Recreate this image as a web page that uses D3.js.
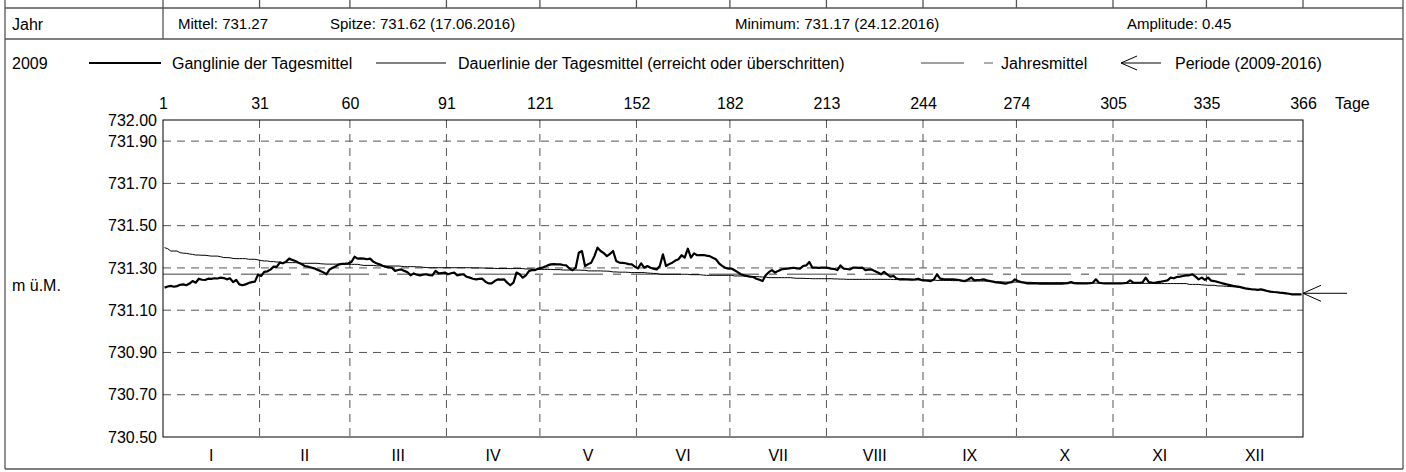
<!DOCTYPE html>
<html lang="de">

<head>
  <meta charset="UTF-8" />
  <title>Ganglinie der Tagesmittel 2009</title>
  <script src="https://d3js.org/d3.v7.min.js"></script>
  <style>
    body {
      margin: 0;
      background: #fff;
    }

    svg text {
      font-family: "Liberation Sans", Arial, sans-serif;
      font-size: 16px;
      fill: #000;
    }
  </style>
</head>

<body>
  <svg width="1406" height="472"></svg>

  <script>
    // --- Daten ---
    const year = "2009";
    const monthEnds = [0, 31, 60, 91, 121, 152, 182, 213, 244, 274, 305, 335, 366];
    const dayLabels = ["1", "31", "60", "91", "121", "152", "182", "213", "244", "274", "305", "335", "366"];
    const monthNames = ["I", "II", "III", "IV", "V", "VI", "VII", "VIII", "IX", "X", "XI", "XII"];
    const yTicks = [732.0, 731.9, 731.7, 731.5, 731.3, 731.1, 730.9, 730.7, 730.5];
    const jahresmittel = 731.27;
    const periodeWert = 731.18;
    const headerTexts = ["Mittel: 731.27", "Spitze: 731.62 (17.06.2016)", "Minimum: 731.17 (24.12.2016)", "Amplitude: 0.45"];
    const legendTexts = ["Ganglinie der Tagesmittel", "Dauerlinie der Tagesmittel (erreicht oder überschritten)", "Jahresmittel", "Periode (2009-2016)"];

    // Tagesmittel (m ü.M.), Monat für Monat
    const jan = [731.207, 731.212, 731.215, 731.211, 731.214, 731.220, 731.222, 731.218, 731.226, 731.238, 731.230, 731.249, 731.244, 731.243, 731.249, 731.248, 731.251, 731.250, 731.254, 731.252, 731.246, 731.251, 731.233, 731.243, 731.222, 731.218, 731.222, 731.229, 731.233, 731.235, 731.268];
    const feb = [731.262, 731.281, 731.284, 731.292, 731.306, 731.305, 731.325, 731.322, 731.330, 731.344, 731.338, 731.333, 731.325, 731.318, 731.309, 731.306, 731.302, 731.298, 731.292, 731.286, 731.279, 731.270, 731.293, 731.301, 731.308, 731.317, 731.319, 731.320, 731.322];
    const mar = [731.328, 731.353, 731.344, 731.345, 731.344, 731.341, 731.344, 731.330, 731.322, 731.317, 731.310, 731.305, 731.303, 731.301, 731.286, 731.290, 731.293, 731.286, 731.280, 731.265, 731.274, 731.268, 731.265, 731.268, 731.270, 731.266, 731.265, 731.286, 731.274, 731.276, 731.278];
    const apr = [731.270, 731.275, 731.278, 731.265, 731.268, 731.270, 731.258, 731.254, 731.249, 731.246, 731.248, 731.249, 731.235, 731.227, 731.227, 731.238, 731.246, 731.245, 731.246, 731.230, 731.218, 731.230, 731.278, 731.270, 731.254, 731.265, 731.285, 731.290, 731.290, 731.297];
    const mai = [731.300, 731.306, 731.312, 731.317, 731.318, 731.317, 731.317, 731.314, 731.312, 731.297, 731.289, 731.301, 731.372, 731.380, 731.309, 731.318, 731.325, 731.356, 731.396, 731.380, 731.370, 731.356, 731.366, 731.380, 731.333, 731.325, 731.324, 731.322, 731.318, 731.317, 731.306];
    const jun = [731.298, 731.322, 731.301, 731.309, 731.301, 731.297, 731.293, 731.309, 731.364, 731.309, 731.318, 731.325, 731.335, 731.341, 731.360, 731.349, 731.391, 731.349, 731.369, 731.360, 731.361, 731.361, 731.358, 731.356, 731.348, 731.341, 731.322, 731.310, 731.301, 731.297];
    const jul = [731.297, 731.289, 731.280, 731.270, 731.265, 731.262, 731.259, 731.257, 731.249, 731.244, 731.238, 731.265, 731.280, 731.290, 731.278, 731.286, 731.293, 731.295, 731.297, 731.299, 731.301, 731.298, 731.297, 731.309, 731.312, 731.328, 731.301, 731.301, 731.300, 731.301, 731.301];
    const aug = [731.300, 731.297, 731.295, 731.290, 731.312, 731.297, 731.295, 731.293, 731.301, 731.301, 731.300, 731.301, 731.290, 731.292, 731.293, 731.285, 731.278, 731.270, 731.281, 731.270, 731.259, 731.262, 731.250, 731.246, 731.247, 731.246, 731.246, 731.245, 731.246, 731.249, 731.243];
    const sep = [731.241, 731.240, 731.238, 731.245, 731.270, 731.249, 731.247, 731.246, 731.246, 731.246, 731.245, 731.243, 731.240, 731.238, 731.245, 731.254, 731.241, 731.243, 731.244, 731.246, 731.241, 731.238, 731.235, 731.232, 731.230, 731.228, 731.226, 731.230, 731.233, 731.246];
    const okt = [731.238, 731.233, 731.230, 731.227, 731.227, 731.227, 731.227, 731.226, 731.226, 731.226, 731.226, 731.226, 731.226, 731.226, 731.226, 731.227, 731.228, 731.233, 731.228, 731.227, 731.227, 731.227, 731.227, 731.228, 731.230, 731.246, 731.230, 731.228, 731.227, 731.227, 731.227];
    const nov = [731.227, 731.227, 731.227, 731.228, 731.230, 731.241, 731.230, 731.230, 731.230, 731.232, 731.254, 731.233, 731.231, 731.230, 731.233, 731.235, 731.238, 731.241, 731.254, 731.251, 731.257, 731.259, 731.262, 731.265, 731.265, 731.270, 731.259, 731.246, 731.254, 731.243];
    const dez = [731.254, 731.240, 731.238, 731.234, 731.230, 731.226, 731.222, 731.219, 731.215, 731.213, 731.211, 731.207, 731.203, 731.201, 731.199, 731.198, 731.196, 731.199, 731.195, 731.191, 731.188, 731.186, 731.185, 731.183, 731.182, 731.180, 731.178, 731.175, 731.175, 731.175, 731.175];

    const tagesmittel = [].concat(jan, feb, mar, apr, mai, jun, jul, aug, sep, okt, nov, dez);
    // Dauerlinie: Tagesmittel absteigend sortiert
    const dauerlinie = tagesmittel.slice().sort((a, b) => b - a);

    // --- Layout ---
    const frameL = 5, frameR = 1403, frameB = 469;
    const plot = { left: 163, right: 1303, top: 120, bottom: 437 };

    const svg = d3.select("svg");

    const x = d3.scaleLinear().domain([0, 366]).range([plot.left, plot.right]);
    const y = d3.scaleLinear().domain([730.5, 732.0]).range([plot.bottom, plot.top]);

    // Rahmen und Tabellenlinien
    const frame = svg.append("g").attr("stroke", "#555").attr("stroke-width", 1.3).attr("fill", "none");
    frame.append("line").attr("x1", frameL).attr("x2", frameL).attr("y1", 0).attr("y2", frameB);
    frame.append("line").attr("x1", frameR).attr("x2", frameR).attr("y1", 0).attr("y2", frameB);
    frame.append("line").attr("x1", frameL).attr("x2", frameR).attr("y1", frameB).attr("y2", frameB);
    frame.append("line").attr("x1", frameL).attr("x2", frameR).attr("y1", 8).attr("y2", 8);
    frame.append("line").attr("x1", frameL).attr("x2", frameR).attr("y1", 39).attr("y2", 39);
    frame.append("line").attr("x1", 163).attr("x2", 163).attr("y1", 8).attr("y2", 39);

    // Reste der Tabelle oben
    frame.selectAll(".topcut")
      .data(monthEnds)
      .join("line")
      .attr("x1", d => x(d)).attr("x2", d => x(d))
      .attr("y1", 0).attr("y2", 8);

    // Kopfzeile
    svg.append("text").attr("x", 12).attr("y", 24).attr("dy", "0.35em").text("Jahr");
    const headerX = [178, 330, 735, 1127];
    svg.selectAll(".hdr")
      .data(headerTexts)
      .join("text")
      .attr("x", (d, i) => headerX[i])
      .attr("y", 24)
      .attr("dy", "0.35em")
      .style("font-size", "15px")
      .text(d => d);

    // Legende
    const ly = 63;
    svg.append("text").attr("x", 12).attr("y", ly).attr("dy", "0.35em").text(year);
    svg.append("line").attr("x1", 89).attr("x2", 161).attr("y1", ly).attr("y2", ly)
      .attr("stroke", "#000").attr("stroke-width", 2.2);
    svg.append("text").attr("x", 172).attr("y", ly).attr("dy", "0.35em").text(legendTexts[0]);
    svg.append("line").attr("x1", 376).attr("x2", 446).attr("y1", ly).attr("y2", ly)
      .attr("stroke", "#000").attr("stroke-width", 1);
    svg.append("text").attr("x", 458).attr("y", ly).attr("dy", "0.35em").text(legendTexts[1]);
    svg.append("line").attr("x1", 921).attr("x2", 964).attr("y1", ly).attr("y2", ly)
      .attr("stroke", "#808080").attr("stroke-width", 1.3);
    svg.append("line").attr("x1", 984).attr("x2", 993).attr("y1", ly).attr("y2", ly)
      .attr("stroke", "#808080").attr("stroke-width", 1.3);
    svg.append("text").attr("x", 1001).attr("y", ly).attr("dy", "0.35em").text(legendTexts[2]);
    svg.append("path")
      .attr("d", `M1161,${ly} L1121,${ly} M1137,${ly - 7} L1121,${ly} L1137,${ly + 7}`)
      .attr("stroke", "#000").attr("stroke-width", 1).attr("fill", "none");
    svg.append("text").attr("x", 1175).attr("y", ly).attr("dy", "0.35em").text(legendTexts[3]);

    // Gitter
    const grid = svg.append("g")
      .attr("stroke", "#555")
      .attr("stroke-width", 1)
      .attr("stroke-dasharray", "8,6");
    grid.selectAll(".hg")
      .data(yTicks.filter(v => v > 730.5 && v < 732.0))
      .join("line")
      .attr("x1", plot.left).attr("x2", plot.right)
      .attr("y1", d => y(d)).attr("y2", d => y(d));
    grid.selectAll(".vg")
      .data(monthEnds.slice(1, -1))
      .join("line")
      .attr("x1", d => x(d)).attr("x2", d => x(d))
      .attr("y1", plot.top).attr("y2", plot.bottom);

    // Jahresmittel
    svg.append("line")
      .attr("x1", plot.left).attr("x2", plot.right)
      .attr("y1", y(jahresmittel)).attr("y2", y(jahresmittel))
      .attr("stroke", "#808080")
      .attr("stroke-width", 1.3)
      .attr("stroke-dasharray", "50,10,8,10");

    // Dauerlinie
    const line = d3.line()
      .x((d, i) => x(i + 0.5))
      .y(d => y(d));
    svg.append("path")
      .datum(dauerlinie)
      .attr("fill", "none")
      .attr("stroke", "#000")
      .attr("stroke-width", 1)
      .attr("d", line);

    // Ganglinie
    svg.append("path")
      .datum(tagesmittel)
      .attr("fill", "none")
      .attr("stroke", "#000")
      .attr("stroke-width", 2.2)
      .attr("stroke-linejoin", "round")
      .attr("d", line);

    // Plotrahmen
    svg.append("rect")
      .attr("x", plot.left).attr("y", plot.top)
      .attr("width", plot.right - plot.left).attr("height", plot.bottom - plot.top)
      .attr("fill", "none").attr("stroke", "#000").attr("stroke-width", 1);

    // Achsen
    const xAxis = d3.axisTop(x)
      .tickValues(monthEnds)
      .tickFormat((d, i) => dayLabels[i])
      .tickSize(0)
      .tickPadding(0);
    svg.append("g")
      .attr("transform", "translate(0,109)")
      .call(xAxis)
      .call(g => g.select(".domain").remove())
      .selectAll("text")
      .attr("font-size", null)
      .attr("font-family", null);

    const yAxis = d3.axisLeft(y)
      .tickValues(yTicks)
      .tickFormat(d3.format(".2f"))
      .tickSize(0)
      .tickPadding(6);
    svg.append("g")
      .attr("transform", `translate(${plot.left},0)`)
      .call(yAxis)
      .call(g => g.select(".domain").remove())
      .selectAll("text")
      .attr("font-size", null)
      .attr("font-family", null);

    // Monatsnamen
    svg.selectAll(".mon")
      .data(monthNames)
      .join("text")
      .attr("x", (d, i) => x((monthEnds[i] + monthEnds[i + 1]) / 2))
      .attr("y", 455)
      .attr("dy", "0.35em")
      .attr("text-anchor", "middle")
      .text(d => d);

    svg.append("text").attr("x", 1335).attr("y", 103).attr("dy", "0.35em").text("Tage");
    svg.append("text").attr("x", 12).attr("y", 285).attr("dy", "0.35em").text("m ü.M.");

    // Periodenpfeil
    const py = y(periodeWert);
    svg.append("path")
      .attr("d", `M${plot.right + 44},${py} L${plot.right},${py} M${plot.right + 18},${py - 8} L${plot.right},${py} L${plot.right + 18},${py + 8}`)
      .attr("stroke", "#000").attr("stroke-width", 1).attr("fill", "none");
  </script>
</body>

</html>
